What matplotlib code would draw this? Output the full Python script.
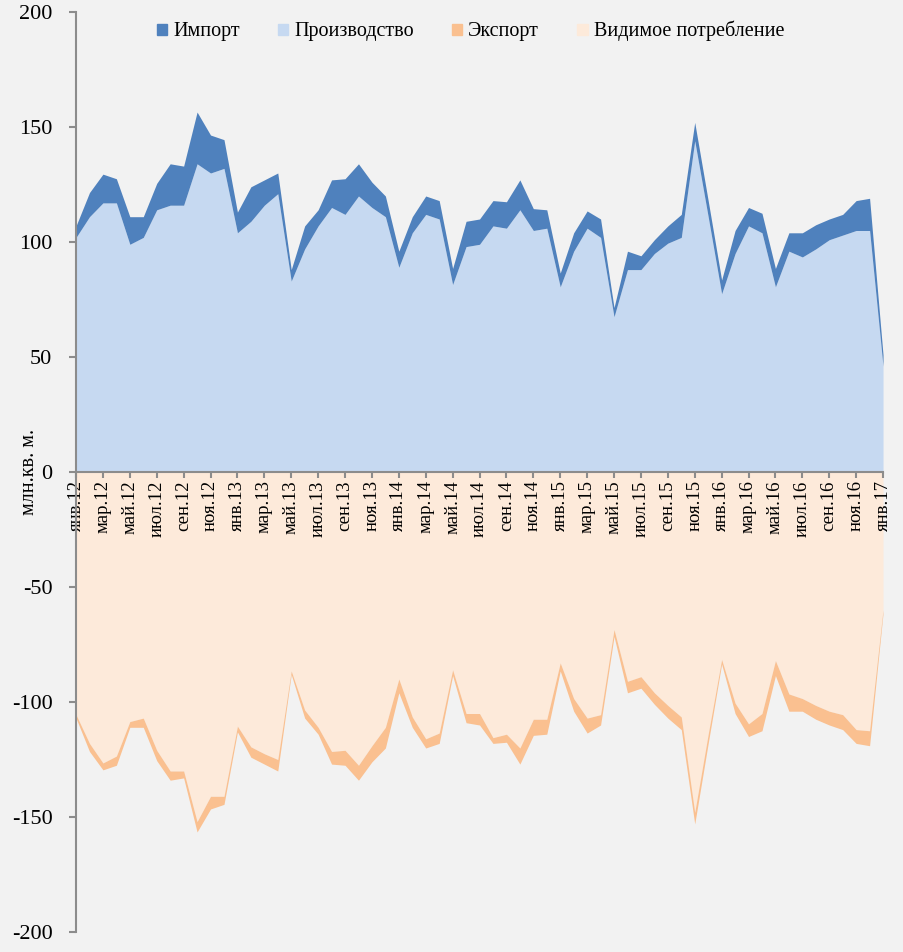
import matplotlib.pyplot as plt
from matplotlib.patches import Patch
import numpy as np

plt.rcParams['font.family'] = ['Liberation Serif', 'DejaVu Serif']
plt.rcParams['axes.unicode_minus'] = False

# месяцы янв.12 .. янв.17
months = ['янв', 'фев', 'мар', 'апр', 'май', 'июн', 'июл', 'авг', 'сен', 'окт', 'ноя', 'дек']
labels = [f'{months[i % 12]}.{12 + i // 12}' for i in range(61)]

# млн. кв. м.
production = [102, 111, 117, 117, 99, 102, 114, 116, 116, 134, 130, 132,
              104, 109, 116, 121, 83, 97, 107, 115, 112, 120, 115, 111,
              89, 104, 112, 110, 81.5, 98, 99, 107, 106, 114, 105, 106,
              80.5, 96, 106, 102, 67.5, 88, 88, 95, 99.5, 102, 144, 111,
              77.5, 95, 107, 104, 80.5, 96, 93.5, 97, 101, 103, 105, 105,
              46]
imports = [5, 10.5, 12.5, 10.5, 12, 9, 11.5, 18, 17, 22.5, 16.5, 12.5,
           9, 15, 11, 9, 5, 10, 7, 12, 15.5, 14, 11, 9,
           7, 7, 8, 8, 7, 11, 11, 11, 11.5, 13, 9.5, 8,
           6, 8, 7.5, 8, 4, 8, 6, 6, 7.5, 10, 8, 7,
           6, 10, 8, 8.5, 8, 8, 10.5, 10.5, 9, 9, 13, 14,
           5]
consumption = [105.5, 118, 126.5, 123.5, 108.5, 107, 121, 130, 130, 152, 141, 141,
               110.5, 119.5, 122.5, 125, 86.5, 103.5, 111, 121.5, 121, 127.5, 119, 111,
               90, 106.5, 116, 113.5, 86, 105, 105, 115.5, 114, 120, 107.5, 107.5,
               83, 98.5, 107, 105.5, 68.5, 91, 89, 96, 101.5, 106.5, 148, 114,
               81.5, 100.5, 109.5, 105, 82, 96.5, 98.5, 101.5, 104, 105.5, 112, 112.5,
               60]
exports = [1.5, 3.5, 3, 4, 2.5, 4, 4.5, 4, 3, 4.5, 5.5, 3.5,
           2.5, 4.5, 4.5, 5, 1.5, 3.5, 3, 5.5, 6.5, 6.5, 7, 9,
           6, 4.5, 4, 4.5, 2.5, 4, 5, 2.5, 3.5, 7, 7, 6.5,
           3.5, 5.5, 6.5, 4.5, 3, 5, 5, 5, 5.5, 5.5, 5, 4,
           2, 4.5, 5.5, 7.5, 6.5, 7.5, 5.5, 6, 6, 6.5, 6, 6.5,
           1.5]

x = np.arange(len(labels))
prod = np.array(production)
top = prod + np.array(imports)
cons = -np.array(consumption)
bottom = cons - np.array(exports)

c_imp = '#4F81BD'
c_prod = '#C6D9F1'
c_exp = '#FAC090'
c_cons = '#FDEADA'
bg = '#F2F2F2'
axis_c = '#8C8C8C'

fig = plt.figure(figsize=(9.04, 9.52), dpi=100, facecolor=bg)
ax = fig.add_axes([0.0841, 0.021, 0.8927, 0.9664])
ax.set_facecolor(bg)

ax.fill_between(x, 0, prod, color=c_prod, lw=0)
ax.fill_between(x, prod, top, color=c_imp, lw=0)
ax.fill_between(x, 0, cons, color=c_cons, lw=0)
ax.fill_between(x, cons, bottom, color=c_exp, lw=0)

ax.set_xlim(0, 60)
ax.set_ylim(-200, 200)
ax.set_yticks(range(-200, 201, 50))
ax.tick_params(axis='y', labelsize=16, length=5, color=axis_c, width=1.5, pad=12)

ax.spines['top'].set_visible(False)
ax.spines['right'].set_visible(False)
ax.spines['left'].set_color(axis_c)
ax.spines['left'].set_linewidth(1.5)
ax.spines['bottom'].set_position(('data', 0))
ax.spines['bottom'].set_color(axis_c)
ax.spines['bottom'].set_linewidth(1.5)

ax.set_xticks(x[::2])
ax.set_xticklabels(labels[::2], rotation=90, fontsize=13.5)
ax.tick_params(axis='x', length=4, color=axis_c, width=1.5, pad=2)

ax.set_ylabel('млн.кв. м.', fontsize=14.5)
ax.yaxis.set_label_coords(-0.046, 0.5)

handles = [Patch(color=c_imp), Patch(color=c_prod), Patch(color=c_exp), Patch(color=c_cons)]
names = ['Импорт', 'Производство', 'Экспорт', 'Видимое потребление']
ax.legend(handles, names, loc='upper center', bbox_to_anchor=(0.489, 1.01), ncol=4,
          frameon=False, fontsize=14.5, handlelength=0.5, handleheight=0.5,
          handletextpad=0.3, columnspacing=1.9)

fig.savefig('out.png', dpi=100, facecolor=bg)
